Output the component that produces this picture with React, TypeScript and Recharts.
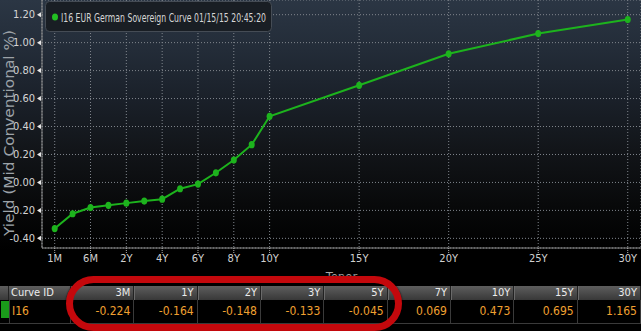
import { LineChart, Line, XAxis, YAxis, CartesianGrid, Label } from "recharts";

const SERIES_NAME = "I16 EUR German Sovereign Curve 01/15/15 20:45:20";

// tenor points of the curve
const tenors = ["1M", "3M", "6M", "1Y", "2Y", "3Y", "4Y", "5Y", "6Y", "7Y", "8Y", "9Y", "10Y", "15Y", "20Y", "25Y", "30Y"];
const tenorYears = [1 / 12, 0.25, 0.5, 1, 2, 3, 4, 5, 6, 7, 8, 9, 10, 15, 20, 25, 30];
const yields = [-0.33, -0.224, -0.18, -0.164, -0.148, -0.133, -0.12, -0.045, -0.012, 0.069, 0.16, 0.27, 0.473, 0.695, 0.92, 1.065, 1.165];

const xTickTenors = ["1M", "6M", "2Y", "4Y", "6Y", "8Y", "10Y", "15Y", "20Y", "25Y", "30Y"];
const yTicks = [-0.4, -0.3, -0.2, -0.1, 0, 0.1, 0.2, 0.3, 0.4, 0.5, 0.6, 0.7, 0.8, 0.9, 1.0, 1.1, 1.2];
const tableTenors = ["3M", "1Y", "2Y", "3Y", "5Y", "7Y", "10Y", "15Y", "30Y"];

const NARROW = "'Liberation Sans Narrow', 'DejaVu Sans Condensed', 'Arial Narrow', sans-serif";
const GREEN = "#1db31d";

// bloomberg tenor axis: sub-year points are spaced by index, then linear in years
const SUB_YEAR = [1 / 12, 0.25, 0.5];
const tenorPos = (yrs: number) =>
  yrs >= 1 ? yrs + 2 : SUB_YEAR.findIndex((v) => Math.abs(v - yrs) < 1e-6);

const data = tenors.map((t, i) => ({ tenor: t, pos: tenorPos(tenorYears[i]), yld: yields[i] }));
const xTicks = xTickTenors.map((t) => data.find((d) => d.tenor === t)!.pos);

const YTick = (props: any) => {
  const { y, payload } = props;
  const v = payload.value as number;
  if (Math.abs(Math.round(v * 10)) % 2 !== 0) return <g />;
  return (
    <g>
      <text x={35} y={y} textAnchor="end" dominantBaseline="central" fill="#d4d4d4" fontSize={11} fontFamily={NARROW}>
        {v.toFixed(2)}
      </text>
      <polygon points={`37,${y} 41,${y - 2.5} 41,${y + 2.5}`} fill="#e6e6e6" />
    </g>
  );
};

const XTick = (props: any) => {
  const { x, payload } = props;
  const label = data.find((d) => d.pos === payload.value)?.tenor;
  return (
    <text x={x} y={258} textAnchor="middle" dominantBaseline="central" fill="#d0d0d0" fontSize={11} fontFamily={NARROW}>
      {label}
    </text>
  );
};

const renderDot = (p: any) => <ellipse key={p.index} cx={p.cx} cy={p.cy} rx={3} ry={3.6} fill={GREEN} />;

const colW = (641 - 71) / 9;

export default function App() {
  return (
    <div
      style={{
        position: "absolute",
        left: 0,
        top: 0,
        width: 641,
        height: 331,
        overflow: "hidden",
        background:
          "linear-gradient(to bottom, #2b3644 0px, #232c38 50px, #1a2029 100px, #121519 150px, #08090a 205px, #000 250px)",
      }}
    >
      <LineChart width={641} height={331} data={data} margin={{ top: 0, right: 0, left: 0, bottom: 63 }}>
        <CartesianGrid stroke="#80868d" strokeDasharray="1 2" />
        <XAxis
          type="number"
          dataKey="pos"
          domain={[-0.71, 32.74]}
          allowDataOverflow
          ticks={xTicks}
          tick={<XTick />}
          tickSize={5}
          height={20}
          stroke="#8c8c8c"
          tickLine={{ stroke: "#b0b0b0", strokeDasharray: "1 1" }}
        >
          <Label value="Tenor" position="bottom" offset={4} fill="#a8a8a8" fontSize={13} fontFamily={NARROW} />
        </XAxis>
        <YAxis
          type="number"
          domain={[-0.469, 1.305]}
          allowDataOverflow
          ticks={yTicks}
          tick={<YTick />}
          tickLine={false}
          width={42}
          stroke="#8c8c8c"
        >
          <Label
            content={() => (
              <text
                x={9}
                y={133}
                transform="rotate(-90 9 133)"
                textAnchor="middle"
                dominantBaseline="central"
                fill="#9ca2a8"
                fontSize={14}
                textLength={206}
                lengthAdjust="spacingAndGlyphs"
                fontFamily="'DejaVu Sans', sans-serif"
              >
                Yield (Mid Conventional %)
              </text>
            )}
          />
        </YAxis>
        <Line
          type="linear"
          dataKey="yld"
          name={SERIES_NAME}
          stroke={GREEN}
          strokeWidth={2}
          dot={renderDot}
          isAnimationActive={false}
        />
      </LineChart>

      {/* legend */}
      <svg width={340} height={33} style={{ position: "absolute", left: 44, top: 0, overflow: "visible" }}>
        <rect x={1.5} y={1.5} width={226} height={30} rx={4} fill="#191e24" stroke="#454c55" />
        <ellipse cx={11} cy={17} rx={3} ry={3.5} fill="#22c022" />
        <text
          x={17}
          y={17}
          dominantBaseline="central"
          fill="#d6d6d6"
          fontSize={12.5}
          fontFamily={NARROW}
          textLength={205}
          lengthAdjust="spacingAndGlyphs"
        >
          {SERIES_NAME}
        </text>
      </svg>

      {/* table */}
      <div style={{ position: "absolute", left: 0, top: 286, width: 641, fontFamily: NARROW }}>
        <div style={{ display: "flex", height: 14, background: "linear-gradient(#5e5e5e, #383838)", color: "#ececec", fontSize: 11, lineHeight: "14px" }}>
          <div style={{ width: 9, borderRight: "1px solid #222", boxSizing: "border-box" }} />
          <div style={{ width: 62, paddingLeft: 2, borderRight: "1px solid #222", boxSizing: "border-box" }}>Curve ID</div>
          {tableTenors.map((t) => (
            <div key={t} style={{ width: colW, textAlign: "right", paddingRight: 3, borderRight: "1px solid #222", borderLeft: "1px solid #6a6a6a", boxSizing: "border-box" }}>
              {t}
            </div>
          ))}
        </div>
        <div style={{ display: "flex", height: 24, background: "#000", color: "#f0a030", fontSize: 12, lineHeight: "16px" }}>
          <div style={{ width: 9, boxSizing: "border-box", paddingTop: 1, paddingLeft: 1, borderBottom: "1px solid #3a3a3a" }}>
            <div style={{ width: 8, height: 17, background: "#1a9a1a" }} />
          </div>
          <div style={{ width: 62, paddingLeft: 2, paddingTop: 3, border: "1px solid #3a3a3a", borderTop: "none", boxSizing: "border-box" }}>I16</div>
          {tableTenors.map((t) => (
            <div key={t} style={{ width: colW, textAlign: "right", paddingRight: 3, paddingTop: 3, borderRight: "1px solid #3a3a3a", borderBottom: "1px solid #3a3a3a", boxSizing: "border-box" }}>
              {yields[tenors.indexOf(t)].toFixed(3)}
            </div>
          ))}
        </div>
      </div>

      {/* red highlight annotation */}
      <div
        style={{
          position: "absolute",
          left: 66,
          top: 276,
          width: 336,
          height: 55,
          boxSizing: "border-box",
          border: "7px solid #c4080c",
          borderRadius: 28,
          boxShadow: "0 0 2px #000",
        }}
      />
    </div>
  );
}
